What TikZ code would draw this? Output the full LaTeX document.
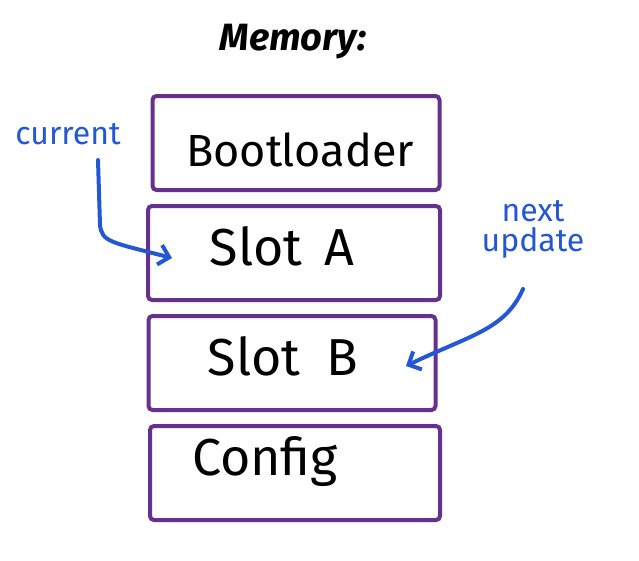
\documentclass[tikz,border=0pt]{standalone}
\usepackage{fontspec}
\setmainfont{Fira Sans}
\usetikzlibrary{arrows.meta}
\definecolor{boxpurple}{HTML}{67308F}
\definecolor{penblue}{HTML}{2357D3}
\begin{document}
\begin{tikzpicture}[x=1pt,y=-1pt,
  membox/.style={draw=boxpurple,line width=4pt,rounded corners=4pt,minimum width=#1,minimum height=94pt,inner sep=0pt},
  memlabel/.style={font=\fontsize{#1}{#1}\selectfont,text=black},
  note/.style={font=\fontsize{32}{30}\selectfont,text=penblue,align=center},
  pointer/.style={draw=penblue,line width=4pt,line cap=round,-{Straight Barb[length=10pt,width=20pt]}}]
\useasboundingbox (0,0) rectangle (639,560);
\node[font=\fontsize{38}{38}\selectfont\bfseries\itshape] (title) at (293,42) {Memory:};
\node[membox=287pt] (boot) at (296,143) {};
\node[membox=292pt] (slota) at (294,253) {};
\node[membox=287pt] (slotb) at (292,363) {};
\node[membox=290pt] (config) at (295,473) {};
\node[memlabel=45] (tboot) at (300,150) {Bootloader};
\node[memlabel=52] (tslota) at (282,246) {Slot\hspace{22pt}A};
\node[memlabel=52] (tslotb) at (283,356) {Slot\hspace{26pt}B};
\node[memlabel=52] (tconfig) at (265,462) {Config};
\node[note] (cur) at (68,134) {current};
\node[note] (next) at (533,229) {next\\update};
\coordinate (ca) at (172,258);
\coordinate (na) at (406,366);
\draw[pointer] (98,160) -- (100,225) .. controls (102,242) and (110,242) .. (ca);
\draw[pointer] (523,289) .. controls (505,330) and (470,335) .. (na);
\end{tikzpicture}
\end{document}
